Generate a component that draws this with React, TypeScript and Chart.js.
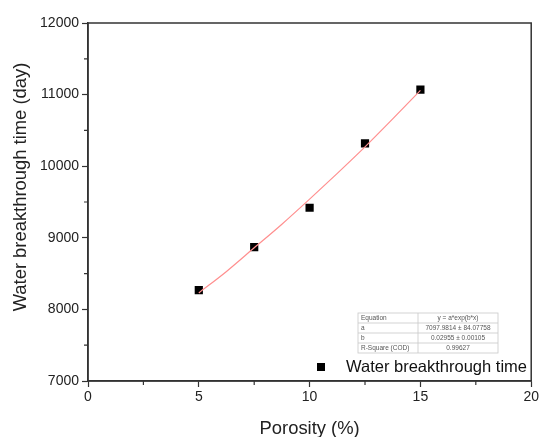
import React, { useEffect, useRef } from "react";
import { Chart, registerables } from "chart.js";

Chart.register(...registerables);

const porosity = [5, 7.5, 10, 12.5, 15];
const breakthrough = [8270, 8870, 9420, 10320, 11070];
const fitPorosity = [5, 6.25, 7.5, 8.75, 10, 11.25, 12.5, 13.75, 15];
const fitBreakthrough = [8230, 8530, 8860, 9190, 9540, 9900, 10270, 10660, 11060];
const xMajorTicks = [0, 5, 10, 15, 20];
const yMajorTicks = [7000, 8000, 9000, 10000, 11000, 12000];
const tableRows = [
  ["Equation", "y = a*exp(b*x)"],
  ["a", "7097.9814 \u00b1 84.07758"],
  ["b", "0.02955 \u00b1 0.00105"],
  ["R-Square (COD)", "0.99627"],
];
const seriesLabel = "Water breakthrough time";
const xTitle = "Porosity (%)";
const yTitle = "Water breakthrough time (day)";

const FONT = "'Liberation Sans', Arial, sans-serif";
const AXIS = "#333333";

const overlay = {
  id: "overlay",
  afterDraw(chart: any) {
    const { ctx, chartArea: a, scales } = chart;
    const xs = scales.x;
    const ys = scales.y;
    ctx.save();
    // frame
    ctx.strokeStyle = AXIS;
    ctx.lineWidth = 1.5;
    ctx.strokeRect(a.left, a.top, a.right - a.left, a.bottom - a.top);
    // minor ticks
    ctx.lineWidth = 1.2;
    ctx.beginPath();
    for (let v = 2.5; v < 20; v += 5) {
      const px = xs.getPixelForValue(v);
      ctx.moveTo(px, a.bottom);
      ctx.lineTo(px, a.bottom + 4);
    }
    for (let v = 7500; v < 12000; v += 1000) {
      const py = ys.getPixelForValue(v);
      ctx.moveTo(a.left, py);
      ctx.lineTo(a.left - 4, py);
    }
    ctx.stroke();
    // y title
    ctx.save();
    ctx.translate(21, 187);
    ctx.rotate(-Math.PI / 2);
    ctx.fillStyle = "#222";
    ctx.font = `18.4px ${FONT}`;
    ctx.textAlign = "center";
    ctx.textBaseline = "middle";
    ctx.fillText(yTitle, 0, 0);
    ctx.restore();
    // legend
    ctx.fillStyle = "#000";
    ctx.fillRect(317, 363, 8, 8);
    ctx.font = `16.5px ${FONT}`;
    ctx.textAlign = "left";
    ctx.textBaseline = "middle";
    ctx.fillStyle = "#111";
    ctx.fillText(seriesLabel, 346, 367);
    // table
    const tx0 = 358, tx1 = 418, tx2 = 498, ty0 = 313, rowH = 10;
    ctx.fillStyle = "#ffffff";
    ctx.fillRect(tx0, ty0, tx2 - tx0, rowH * tableRows.length);
    ctx.strokeStyle = "#c8c8c8";
    ctx.lineWidth = 0.8;
    ctx.strokeRect(tx0, ty0, tx2 - tx0, rowH * tableRows.length);
    ctx.beginPath();
    for (let i = 1; i < tableRows.length; i++) {
      ctx.moveTo(tx0, ty0 + i * rowH);
      ctx.lineTo(tx2, ty0 + i * rowH);
    }
    ctx.moveTo(tx1, ty0);
    ctx.lineTo(tx1, ty0 + rowH * tableRows.length);
    ctx.stroke();
    ctx.font = `6.5px ${FONT}`;
    ctx.fillStyle = "#555";
    ctx.textBaseline = "middle";
    tableRows.forEach((r, i) => {
      const cy = ty0 + i * rowH + rowH / 2 + 0.5;
      ctx.textAlign = "left";
      ctx.fillText(r[0], tx0 + 3, cy);
      ctx.textAlign = "center";
      ctx.fillText(r[1], (tx1 + tx2) / 2, cy);
    });
    ctx.restore();
  },
};

export default function App() {
  const ref = useRef<HTMLCanvasElement>(null);
  useEffect(() => {
    document.body.style.margin = "0";
    const c = new Chart(ref.current as HTMLCanvasElement, {
      type: "scatter",
      data: {
        datasets: [
          {
            type: "line",
            label: "fit",
            data: fitPorosity.map((x, i) => ({ x, y: fitBreakthrough[i] })),
            borderColor: "#ff8f8f",
            borderWidth: 1.2,
            pointRadius: 0,
            cubicInterpolationMode: "monotone",
            fill: false,
          } as any,
          {
            label: seriesLabel,
            data: porosity.map((x, i) => ({ x, y: breakthrough[i] })),
            backgroundColor: "#000",
            borderColor: "#000",
            pointStyle: "rect",
            pointRadius: 5.8,
            borderWidth: 0,
          },
        ],
      },
      options: {
        animation: false,
        responsive: false,
        layout: { padding: { top: 23, right: 9, left: 0, bottom: 0 } },
        plugins: { legend: { display: false }, tooltip: { enabled: false } },
        scales: {
          x: {
            type: "linear",
            min: 0,
            max: 20,
            afterFit: (s: any) => { s.height = 56; },
            ticks: {
              stepSize: 5,
              color: "#222",
              font: { family: FONT, size: 14 },
              padding: 2,
              callback: (v: any) => (xMajorTicks.includes(v) ? String(v) : ""),
            },
            grid: { drawOnChartArea: false, drawTicks: true, tickLength: 6, tickColor: AXIS, tickWidth: 1.2 },
            border: { display: true, color: AXIS, width: 1.5 },
            title: { display: true, text: xTitle, color: "#222", font: { family: FONT, size: 18.4 }, padding: { top: 0, bottom: -3 } },
          },
          y: {
            type: "linear",
            min: 7000,
            max: 12000,
            afterFit: (s: any) => { s.width = 88; },
            ticks: {
              stepSize: 1000,
              color: "#222",
              font: { family: FONT, size: 14 },
              padding: 3,
              callback: (v: any) => (yMajorTicks.includes(v) ? String(v) : ""),
            },
            grid: { drawOnChartArea: false, drawTicks: true, tickLength: 6, tickColor: AXIS, tickWidth: 1.2 },
            border: { display: true, color: AXIS, width: 1.5 },
          },
        },
      },
      plugins: [overlay],
    });
    return () => c.destroy();
  }, []);
  return (
    <div style={{ width: 541, height: 437 }}>
      <canvas ref={ref} width={541} height={437} />
    </div>
  );
}
